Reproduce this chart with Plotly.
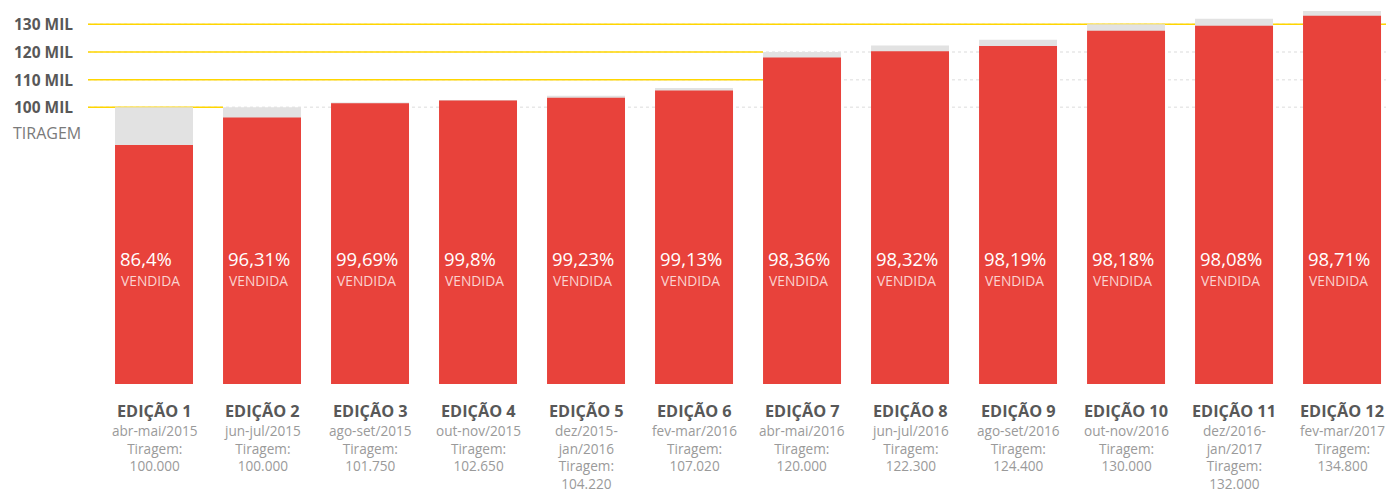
import plotly.graph_objects as go

# ---------------- data ----------------
editions = ["EDIÇÃO 1", "EDIÇÃO 2", "EDIÇÃO 3", "EDIÇÃO 4", "EDIÇÃO 5", "EDIÇÃO 6",
            "EDIÇÃO 7", "EDIÇÃO 8", "EDIÇÃO 9", "EDIÇÃO 10", "EDIÇÃO 11", "EDIÇÃO 12"]
periods = ["abr-mai/2015", "jun-jul/2015", "ago-set/2015", "out-nov/2015",
           "dez/2015-<br>jan/2016", "fev-mar/2016", "abr-mai/2016", "jun-jul/2016",
           "ago-set/2016", "out-nov/2016", "dez/2016-<br>jan/2017", "fev-mar/2017"]
tiragem = [100000, 100000, 101750, 102650, 104220, 107020,
           120000, 122300, 124400, 130000, 132000, 134800]
pct_vendida = [86.4, 96.31, 99.69, 99.8, 99.23, 99.13,
               98.36, 98.32, 98.19, 98.18, 98.08, 98.71]
grid_values = [100000, 110000, 120000, 130000]
grid_labels = ["100 MIL", "110 MIL", "120 MIL", "130 MIL"]
yellow_until = [1, 6, 6, 12]   # yellow segment runs up to this bar's left edge

# ---------------- geometry ----------------
W, H = 1386, 493
PLOT_H = 384
BAR_W = 0.722
X_RANGE = [-1.426, 11.407]
Y_MAX = 138780

def fmt_thousands(v):
    return f"{v:,}".replace(",", ".")

def fmt_pct(p):
    s = f"{p:.2f}".rstrip("0").rstrip(".")
    return s.replace(".", ",") + "%"

def px_to_x(px):
    return X_RANGE[0] + px / W * (X_RANGE[1] - X_RANGE[0])

def py_to_paper(py):
    return (PLOT_H - py) / PLOT_H

x = list(range(len(editions)))
vendida = [t * p / 100 for t, p in zip(tiragem, pct_vendida)]

RED = "#E8423B"
GRAY = "#E2E2E2"
YELLOW = "#FFD600"
FONT = "Open Sans"

fig = go.Figure()
fig.add_trace(go.Bar(x=x, y=tiragem, width=BAR_W, marker=dict(color=GRAY, line=dict(width=0)),
                     hoverinfo="skip"))
fig.add_trace(go.Bar(x=x, y=vendida, width=BAR_W, marker=dict(color=RED, line=dict(width=0)),
                     hoverinfo="skip"))

shapes = []
x_start = px_to_x(88)
for v, until in zip(grid_values, yellow_until):
    # dotted light gray grid line across the whole chart
    shapes.append(dict(type="line", xref="x", yref="y", x0=x_start, x1=X_RANGE[1], y0=v, y1=v,
                       line=dict(color="#E8E8E8", width=1.5, dash="dot"), layer="below"))
    x_end = (until - BAR_W / 2) if until < len(editions) else X_RANGE[1]
    shapes.append(dict(type="line", xref="x", yref="y", x0=x_start, x1=x_end, y0=v, y1=v,
                       line=dict(color=YELLOW, width=1.5), layer="below"))

annotations = []
for v, lab in zip(grid_values, grid_labels):
    annotations.append(dict(x=12 / W, xref="paper", y=v, yref="y", text=f"<b>{lab}</b>",
                            showarrow=False, xanchor="left", yanchor="middle",
                            font=dict(family=FONT, size=15.5, color="#585858")))
annotations.append(dict(x=11 / W, xref="paper", y=py_to_paper(133), yref="paper", text="TIRAGEM",
                        showarrow=False, xanchor="left", yanchor="middle",
                        font=dict(family=FONT, size=16, color="#7a7a7a")))

for i in x:
    left = i - BAR_W / 2
    annotations.append(dict(x=left, xref="x", xshift=4, y=py_to_paper(258), yref="paper",
                            text=fmt_pct(pct_vendida[i]), showarrow=False,
                            xanchor="left", yanchor="middle", borderpad=0,
                            font=dict(family=FONT, size=18.5, color="white")))
    annotations.append(dict(x=left, xref="x", xshift=5, y=py_to_paper(280), yref="paper",
                            text="VENDIDA", showarrow=False, xanchor="left", yanchor="middle",
                            borderpad=0,
                            font=dict(family=FONT, size=13.8, color="#FBD3D0")))
    annotations.append(dict(x=i, xref="x", y=py_to_paper(411), yref="paper",
                            text=f"<b>{editions[i]}</b>", showarrow=False,
                            xanchor="center", yanchor="middle", borderpad=0,
                            font=dict(family=FONT, size=16.3, color="#585858")))
    annotations.append(dict(x=i, xref="x", y=py_to_paper(420), yref="paper",
                            text=f"{periods[i]}<br>Tiragem:<br>{fmt_thousands(tiragem[i])}",
                            showarrow=False, xanchor="center", yanchor="top", borderpad=0,
                            font=dict(family=FONT, size=13.6, color="#9a9a9a")))

fig.update_layout(
    width=W, height=H,
    margin=dict(l=0, r=0, t=0, b=H - PLOT_H, pad=0),
    barmode="overlay", showlegend=False,
    plot_bgcolor="white", paper_bgcolor="white",
    xaxis=dict(range=X_RANGE, visible=False, fixedrange=True),
    yaxis=dict(range=[0, Y_MAX], visible=False, fixedrange=True),
    shapes=shapes, annotations=annotations, hovermode=False,
)

fig.write_html("out.html", config={"displayModeBar": False},
               post_script="document.body.style.margin='0';")
